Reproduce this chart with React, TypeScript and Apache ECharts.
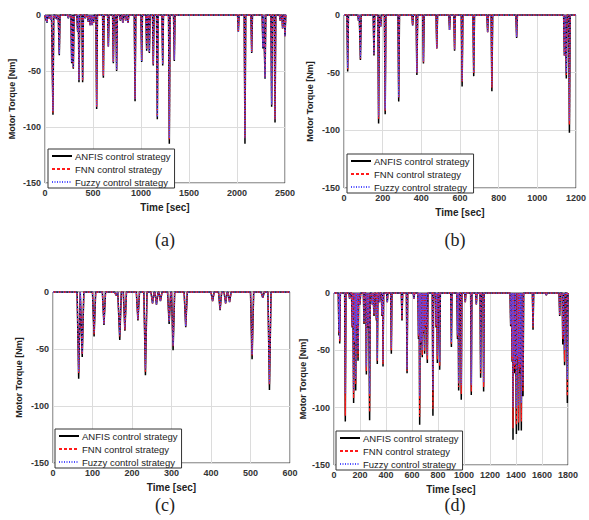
import React, { useEffect, useRef } from "react";
import * as echarts from "echarts";

// Spike data: [time, ANFIS, FNN, Fuzzy] torque minima
const spikesA: number[][] = [
  [10, -5, -5, -5], [20, -7, -7, -7], [40, -3, -3, -3], [60, -4, -4, -4], [83, -89, -87, -86],
  [110, -3, -3, -3], [130, -4, -4, -4], [149, -36, -35, -35], [243, -3, -3, -3], [278, -43, -42, -42],
  [295, -48, -47, -47], [340, -15, -15, -15], [354, -60, -58, -58], [392, -60, -59, -58], [420, -3, -3, -3],
  [450, -6, -6, -6], [470, -9, -9, -9], [490, -9, -9, -9], [505, -7, -7, -7], [538, -84, -82, -82],
  [608, -56, -54, -54], [660, -28, -28, -28], [712, -43, -42, -42], [746, -50, -49, -49], [785, -5, -5, -5],
  [810, -7, -7, -7], [840, -5, -5, -5], [865, -7, -7, -7], [938, -77, -75, -75], [1007, -42, -41, -41],
  [1059, -32, -31, -31], [1087, -34, -33, -33], [1128, -45, -44, -44], [1170, -93, -91, -91], [1226, -45, -44, -44],
  [1295, -115, -111, -110], [1347, -41, -40, -40], [2014, -15, -15, -15], [2083, -115, -110, -110],
  [2153, -34, -33, -33], [2270, -30, -29, -29], [2292, -57, -56, -56], [2361, -82, -80, -80], [2396, -96, -93, -93],
  [2450, -5, -5, -5], [2475, -12, -12, -12], [2500, -19, -19, -19],
];
const spikesB: number[][] = [
  [19, -49, -47, -46], [75, -5, -5, -5], [85, -39, -38, -37], [155, -35, -34, -34], [179, -94, -90, -88],
  [190, -10, -10, -10], [213, -86, -83, -82], [283, -75, -72, -71], [355, -9, -9, -9], [377, -52, -50, -50],
  [411, -42, -41, -40], [480, -29, -29, -29], [546, -13, -13, -13], [572, -31, -30, -30], [611, -62, -58, -57],
  [671, -53, -51, -50], [743, -15, -15, -15], [765, -66, -63, -62], [893, -20, -19, -19], [1140, -35, -35, -35],
  [1150, -55, -52, -50], [1166, -102, -95, -92],
];
const spikesC: number[][] = [
  [65, -76, -71, -70], [74, -57, -55, -54], [104, -39, -37, -36], [129, -29, -28, -28], [160, -3, -3, -3],
  [169, -42, -39, -38], [182, -34, -33, -32], [215, -25, -24, -24], [234, -73, -70, -68], [252, -10, -10, -10],
  [262, -11, -11, -11], [272, -8, -8, -8], [294, -28, -26, -26], [304, -51, -48, -47], [336, -31, -30, -30],
  [404, -8, -8, -8], [423, -16, -15, -15], [437, -10, -10, -10], [447, -9, -9, -9], [504, -59, -56, -55],
  [531, -5, -5, -5], [548, -86, -81, -80],
];
const spikesD: number[][] = [
  [38, -37, -35, -33], [44, -44, -42, -40], [87, -112, -107, -88], [120, -5, -5, -5], [140, -30, -29, -28],
  [151, -96, -92, -85], [160, -45, -43, -42], [167, -85, -80, -75], [175, -30, -29, -28], [185, -59, -56, -50],
  [200, -10, -10, -10], [231, -27, -26, -25], [249, -71, -68, -64], [262, -30, -29, -28], [274, -111, -104, -88],
  [295, -10, -10, -10], [308, -20, -19, -18], [326, -24, -23, -22], [333, -62, -60, -58], [350, -8, -8, -8],
  [369, -20, -19, -18], [377, -64, -62, -60], [410, -8, -8, -8], [441, -53, -50, -48], [523, -24, -23, -22],
  [562, -70, -68, -66], [615, -5, -5, -5], [650, -40, -38, -36], [659, -115, -108, -90], [668, -45, -43, -42],
  [679, -56, -54, -50], [688, -35, -34, -33], [697, -53, -51, -48], [705, -30, -29, -28], [718, -61, -58, -55],
  [761, -107, -101, -85], [785, -30, -29, -28], [795, -61, -58, -55], [813, -67, -64, -60], [903, -47, -45, -43],
  [950, -40, -38, -36], [959, -85, -82, -78], [979, -93, -88, -80], [1010, -8, -8, -8], [1056, -89, -86, -80],
  [1095, -10, -10, -10], [1128, -74, -70, -66], [1151, -86, -82, -78], [1359, -29, -28, -27], [1370, -60, -58, -55],
  [1377, -128, -118, -100], [1390, -70, -66, -62], [1403, -123, -115, -100], [1412, -60, -58, -55],
  [1420, -120, -113, -98], [1430, -70, -66, -62], [1441, -120, -112, -96], [1454, -90, -86, -80],
  [1531, -32, -30, -29], [1633, -2, -2, -2], [1736, -20, -19, -19], [1760, -45, -40, -38], [1774, -63, -60, -50],
  [1795, -96, -90, -75],
];

const xMaxes = [2500, 1200, 600, 1800];
const xIntervals = [500, 200, 100, 200];
const yTicksMin = -150;
const names = ["ANFIS control strategy", "FNN control strategy", "Fuzzy control strategy"];
const panelLabels = ["(a)", "(b)", "(c)", "(d)"];

const panels = [spikesA, spikesB, spikesC, spikesD];
const spikeHalfWidths = [8, 4, 4, 5];

const grids = [
  { left: 45, top: 15, width: 240, height: 168 },
  { left: 344, top: 15, width: 234, height: 173 },
  { left: 53, top: 292, width: 237, height: 171 },
  { left: 334, top: 293, width: 234, height: 172 },
];
const yNameGaps = [29, 30, 30, 27];
const legendPos = [
  { left: 48, top: 149 },
  { left: 347, top: 154 },
  { left: 55, top: 429 },
  { left: 336, top: 431 },
];
const labelPos = [
  [165, 240], [455, 240], [165, 505], [455, 505],
];

function buildLine(spikes: number[][], col: number, w: number, xMax: number): number[][] {
  const pts: number[][] = [[0, 0]];
  spikes.forEach((s) => {
    pts.push([s[0] - w, 0], [s[0], s[col]], [s[0] + w, 0]);
  });
  pts.push([xMax, 0]);
  return pts;
}

const styles = [
  { color: "#000000", width: 1.5, type: "solid" as any },
  { color: "#ff1a1a", width: 1.3, type: [3, 2] as any },
  { color: "#5050ff", width: 1.3, type: [1, 1.5] as any },
];

export default function App() {
  const ref = useRef<HTMLDivElement>(null);
  useEffect(() => {
    if (!ref.current) return;
    const chart = echarts.init(ref.current, undefined, { renderer: "svg" });
    const font = "'Liberation Sans', Arial, sans-serif";
    const series: any[] = [];
    panels.forEach((sp, p) => {
      names.forEach((n, k) => {
        series.push({
          type: "line",
          name: n,
          xAxisIndex: p,
          yAxisIndex: p,
          showSymbol: false,
          symbol: "none",
          data: buildLine(sp, k + 1, spikeHalfWidths[p], xMaxes[p]),
          lineStyle: { color: styles[k].color, width: styles[k].width, type: styles[k].type },
          itemStyle: { color: styles[k].color },
          z: 2 + k,
        });
      });
    });
    const option: any = {
      animation: false,
      backgroundColor: "#ffffff",
      grid: grids.map((g) => ({ ...g, show: true, borderColor: "#444", borderWidth: 1, backgroundColor: "#fff" })),
      xAxis: xMaxes.map((m, i) => ({
        type: "value",
        gridIndex: i,
        min: 0,
        max: m,
        interval: xIntervals[i],
        name: "Time [sec]",
        nameLocation: "middle",
        nameGap: 19,
        nameTextStyle: { fontSize: 10, fontWeight: "bold", color: "#222", fontFamily: font },
        axisLine: { show: false },
        axisTick: { show: false },
        axisLabel: {
          fontSize: 9, fontWeight: "bold", color: "#333", fontFamily: font, margin: 5,
          formatter: (v: number) => String(v),
        },
        splitLine: { show: true, lineStyle: { color: "#dcdcdc", width: 1 } },
      })),
      yAxis: xMaxes.map((_, i) => ({
        type: "value",
        gridIndex: i,
        min: yTicksMin,
        max: 0,
        interval: 50,
        name: "Motor Torque [Nm]",
        nameLocation: "middle",
        nameGap: yNameGaps[i],
        nameTextStyle: { fontSize: 9, fontWeight: "bold", color: "#222", fontFamily: font },
        axisLine: { show: false },
        axisTick: { show: false },
        axisLabel: {
          fontSize: 9, fontWeight: "bold", color: "#333", fontFamily: font, margin: 4,
          formatter: (v: number) => String(v),
        },
        splitLine: { show: true, lineStyle: { color: "#dcdcdc", width: 1 } },
      })),
      legend: legendPos.map((lp) => ({
        orient: "vertical",
        left: lp.left,
        top: lp.top,
        data: names,
        itemWidth: 20,
        itemHeight: 6,
        itemGap: 3,
        padding: [2, 4, 1, 3],
        backgroundColor: "#fff",
        borderColor: "#333",
        borderWidth: 1,
        borderRadius: 0,
        itemStyle: { opacity: 0 },
        textStyle: { fontSize: 9.5, color: "#222", fontFamily: font, padding: [0, 0, 0, -2] },
      })),
      graphic: panelLabels.map((t, i) => ({
        type: "text",
        x: labelPos[i][0],
        y: labelPos[i][1],
        style: {
          text: t,
          font: "18px 'Liberation Serif', 'Times New Roman', serif",
          fill: "#222",
          textAlign: "center",
          textVerticalAlign: "middle",
        },
      })),
      series,
    };
    chart.setOption(option);
    return () => chart.dispose();
  }, []);
  return (
    <div
      ref={ref}
      style={{ position: "fixed", left: 0, top: 0, width: 589, height: 520, background: "#fff" }}
    />
  );
}
